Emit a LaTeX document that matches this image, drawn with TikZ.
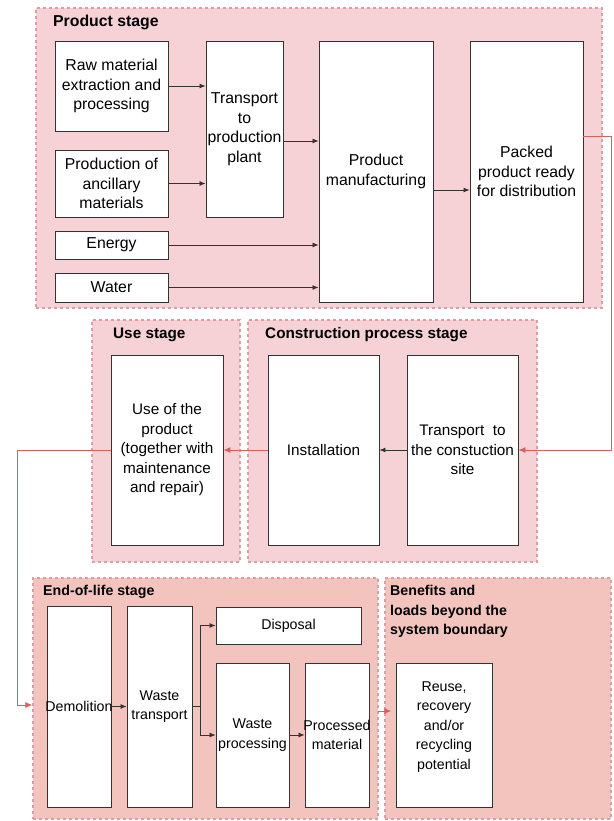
\documentclass[tikz,border=0pt]{standalone}
\usepackage{fontspec}
\setmainfont{Liberation Sans}
\usetikzlibrary{arrows.meta,calc}
\definecolor{pinkfill}{HTML}{F6D1D6}
\definecolor{salmonfill}{HTML}{F3C4BE}
\definecolor{dashcol}{HTML}{E09CA3}
\definecolor{boxline}{HTML}{333333}
\definecolor{redline}{HTML}{D95F5E}
\newcommand\fsizetop{\fontsize{15.8}{19.5}\selectfont}
\newcommand\fsizemid{\fontsize{15.3}{19.5}\selectfont}
\newcommand\fsizebot{\fontsize{14.2}{19.5}\selectfont}
\tikzset{
  stage/.style={draw=dashcol, line width=1.5pt, dash pattern=on 3pt off 3pt, inner sep=0pt},
  pinkstage/.style={stage, fill=pinkfill},
  salmonstage/.style={stage, fill=salmonfill},
  box/.style={draw=boxline, fill=white, line width=0.9pt, inner sep=0pt},
  boxtext/.style={align=center, inner sep=0pt},
  toptxt/.style={label={[boxtext,font=\fsizetop]center:{#1}}},
  midtxt/.style={label={[boxtext,font=\fsizemid]center:{#1}}},
  bottxt/.style={label={[boxtext,font=\fsizebot]center:{#1}}},
  title/.style={inner sep=0pt, align=left, anchor=west},
  arr/.style={draw=boxline, line width=0.8pt, -{Latex[length=6pt,width=5pt]}},
  redarr/.style={draw=redline, line width=0.9pt, -{Latex[length=7pt,width=6pt]}}
}
\begin{document}
\begin{tikzpicture}[x=1pt,y=-1pt]
\useasboundingbox (0,0) rectangle (613,821);
% stages
\node[pinkstage, minimum width=566, minimum height=300] (ps) at (319,158) {};
\node[pinkstage, minimum width=148, minimum height=242] (us) at (166,441) {};
\node[pinkstage, minimum width=289, minimum height=242] (cs) at (392.5,441) {};
\node[salmonstage, minimum width=345, minimum height=241] (eol) at (205.5,698.5) {};
\node[salmonstage, minimum width=226, minimum height=241] (ben) at (498,698.5) {};
% titles
\node[title, font=\fsizetop\bfseries] (tps) at (53,22) {Product stage};
\node[title, font=\fsizemid\bfseries] (tus) at (113,335) {Use stage};
\node[title, font=\fsizemid\bfseries] (tcs) at (265,335) {Construction process stage};
\node[title, font=\fsizebot\bfseries] (teol) at (43,592) {End-of-life stage};
\node[title, font=\fsizebot\bfseries] (tben) at (390,611.5) {Benefits and\\loads beyond the\\system boundary};
% product stage boxes
\node[box, minimum width=113, minimum height=90, toptxt={Raw material\\extraction and\\processing}] (raw) at (111.5,86) {};
\node[box, minimum width=113, minimum height=67, toptxt={Production of\\ancillary\\materials}] (anc) at (111.5,183.5) {};
\node[box, minimum width=113, minimum height=28, toptxt={Energy}] (energy) at (111.5,245) {};
\node[box, minimum width=113, minimum height=29, toptxt={Water}] (water) at (111.5,287.5) {};
\node[box, minimum width=77, minimum height=176, toptxt={Transport\\to\\production\\plant}] (tpp) at (244.5,129) {};
\node[box, minimum width=114, minimum height=261, toptxt={Product\\manufacturing}] (manu) at (376,171.5) {};
\node[box, minimum width=113, minimum height=261, toptxt={Packed\\product ready\\for distribution}] (packed) at (526.5,171.5) {};
% use / construction
\node[box, minimum width=112, minimum height=190, midtxt={Use of the\\product\\(together with\\maintenance\\and repair)}] (use) at (167,450) {};
\node[box, minimum width=111, minimum height=190, midtxt={Installation}] (inst) at (323.5,450) {};
\node[box, minimum width=111, minimum height=190, midtxt={Transport\ \ to\\the constuction\\site}] (tsite) at (462.5,450) {};
% end of life
\node[box, minimum width=64, minimum height=201, bottxt={Demolition}] (demo) at (79,706.5) {};
\node[box, minimum width=65, minimum height=201, bottxt={Waste\\transport}] (wtrans) at (159.5,706.5) {};
\node[box, minimum width=145, minimum height=37, bottxt={Disposal}] (disp) at (288.5,625.5) {};
\node[box, minimum width=73, minimum height=144, bottxt={Waste\\processing}] (wproc) at (252.5,735) {};
\node[box, minimum width=64, minimum height=144, bottxt={Processed\\material}] (procm) at (337,735) {};
\node[box, minimum width=96, minimum height=144, label={[boxtext,font=\fsizebot,yshift=8pt]center:{Reuse,\\recovery\\and/or\\recycling\\potential}}] (reuse) at (444,735) {};
% product stage arrows
\draw[arr] (raw.east) -- (raw.east -| tpp.west);
\draw[arr] (anc.east) -- (anc.east -| tpp.west);
\coordinate (c1) at (283,141);
\draw[arr] (tpp.east |- c1) -- (c1 -| manu.west);
\draw[arr] (energy.east) -- (energy.east -| manu.west);
\draw[arr] (water.east) -- (water.east -| manu.west);
\coordinate (c2) at (433,190);
\draw[arr] (manu.east |- c2) -- (c2 -| packed.west);
% red loop to construction stage
\coordinate (r1) at (611,136);
\coordinate (r2) at (611,450);
\draw[redarr] (packed.east |- r1) -- (r1) -- (r2) -- (tsite.east);
% construction
\draw[arr] (tsite.west) -- (inst.east);
\draw[redarr] (inst.west) -- (use.east);
% red loop to end of life
\coordinate (l1) at (17,450);
\coordinate (l2) at (17,705);
\draw[redarr] (use.west) -- (l1) -- (l2) -- (eol.west |- l2);
% end of life arrows
\draw[arr] (demo.east) -- (wtrans.west);
\coordinate (jn) at (200,706.5);
\draw[draw=boxline, line width=0.8pt] (wtrans.east) -- (jn);
\draw[arr] (jn) |- (disp.west);
\draw[arr] (jn) |- (wproc.west);
\draw[arr] (wproc.east) -- (procm.west);
\coordinate (b1) at (378,711);
\draw[redarr] (b1) -- ($(b1 -| ben.west)+(7,0)$);
\end{tikzpicture}
\end{document}
